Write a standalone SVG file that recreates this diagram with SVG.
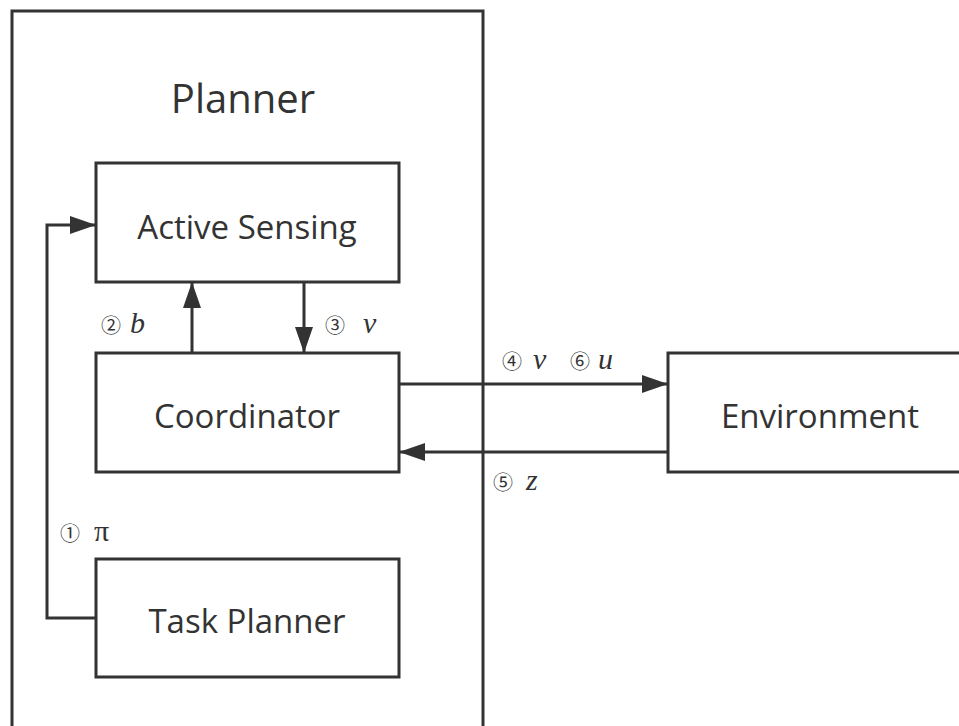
<svg xmlns="http://www.w3.org/2000/svg" width="959" height="726" viewBox="0 0 959 726">
<style>
.box{fill:#fff;stroke:#333;stroke-width:3}
.lbl{font-family:"Open Sans","Noto Sans",sans-serif;fill:#333;text-anchor:middle}
.num{font-family:"Noto Sans CJK SC","DejaVu Sans",sans-serif;font-size:20px;fill:#333}
.var{font-family:"Liberation Serif",serif;font-style:italic;font-size:30px;fill:#333}
.up{font-family:"Liberation Serif",serif;font-size:30px;fill:#333}
.con{fill:none;stroke:#333;stroke-width:3}
</style>
<defs>
<marker id="ah" markerUnits="userSpaceOnUse" markerWidth="26" markerHeight="18" refX="25" refY="9" orient="auto">
<path d="M0,0 L26,9 L0,18 Z" fill="#333"/>
</marker>
</defs>
<g id="planner">
<rect class="box" x="12" y="11" width="471" height="740" fill="none"/>
<text class="lbl" x="243" y="113" font-size="40">Planner</text>
</g>
<g id="active-sensing">
<rect class="box" x="96" y="163" width="303" height="119"/>
<text class="lbl" x="247" y="239" font-size="33">Active Sensing</text>
</g>
<g id="coordinator">
<rect class="box" x="96" y="353" width="303" height="119"/>
<text class="lbl" x="247" y="428" font-size="33">Coordinator</text>
</g>
<g id="task-planner">
<rect class="box" x="96" y="559" width="303" height="118"/>
<text class="lbl" x="247" y="633" font-size="33">Task Planner</text>
</g>
<g id="environment">
<rect class="box" x="668" y="353" width="310" height="119"/>
<text class="lbl" x="820" y="428" font-size="33">Environment</text>
</g>
<g id="connectors">
<path class="con" d="M96,618 H47 V225 H95" marker-end="url(#ah)"/>
<path class="con" d="M192,353 V283" marker-end="url(#ah)"/>
<path class="con" d="M304,282 V352" marker-end="url(#ah)"/>
<path class="con" d="M399,384 H667" marker-end="url(#ah)"/>
<path class="con" d="M668,452 H400" marker-end="url(#ah)"/>
</g>
<g id="labels">
<text class="num" x="60" y="541">①</text><text class="up" x="94" y="541">π</text>
<text class="num" x="101" y="333">②</text><text class="var" x="130" y="333">b</text>
<text class="num" x="325" y="333">③</text><text class="var" x="363" y="333">v</text>
<text class="num" x="502" y="369">④</text><text class="var" x="533" y="369">v</text>
<text class="num" x="570" y="369">⑥</text><text class="var" x="598" y="369">u</text>
<text class="num" x="493" y="490">⑤</text><text class="var" x="526" y="490">z</text>
</g>
</svg>
